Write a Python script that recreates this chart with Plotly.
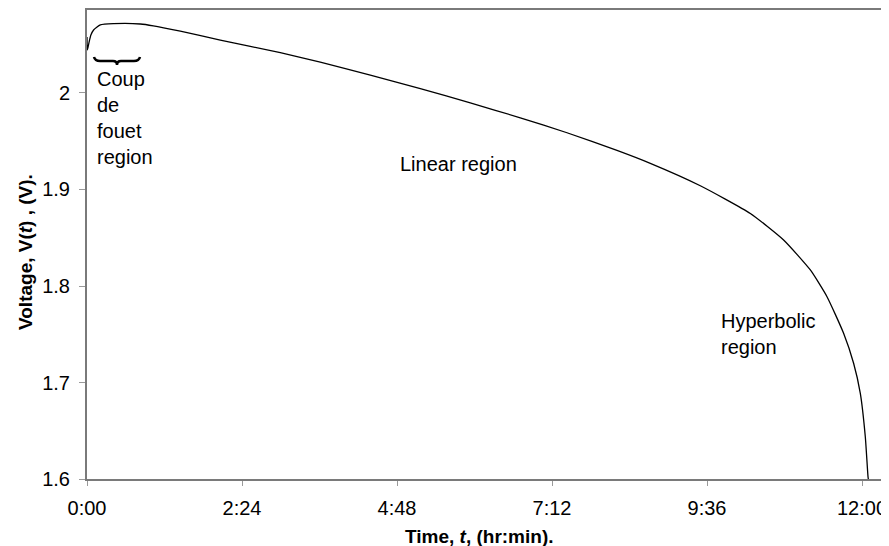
import plotly.graph_objects as go

# time in hours, voltage in volts
time_h = [0.0, 0.006, 0.03, 0.06, 0.102, 0.206, 0.407, 0.825, 1.027, 1.445, 2.064, 2.993,
          3.612, 4.387, 5.161, 5.935, 6.709, 7.432, 8.206, 8.722, 9.496, 10.271,
          10.786, 11.200, 11.458, 11.715, 11.870, 11.974, 12.051, 12.093, 12.098]
voltage = [2.058, 2.0446, 2.052, 2.060, 2.0653, 2.0705, 2.0718, 2.0715, 2.0696, 2.0640, 2.0548, 2.0418,
           2.0320, 2.0185, 2.0046, 1.9898, 1.9743, 1.9588, 1.9405, 1.9271, 1.9039, 1.8752,
           1.8477, 1.8166, 1.7889, 1.7510, 1.7199, 1.6888, 1.6438, 1.6024, 1.6000]

tick_hours = [0, 2.4, 4.8, 7.2, 9.6, 12.0]
tick_text  = ["0:00", "2:24", "4:48", "7:12", "9:36", "12:00"]
volt_ticks = [1.6, 1.7, 1.8, 1.9, 2.0]
volt_text  = ["1.6", "1.7", "1.8", "1.9", "2"]

font = "Arial, Liberation Sans, sans-serif"

fig = go.Figure()
fig.add_trace(go.Scatter(x          = time_h,
                         y          = voltage,
                         mode       = "lines",
                         line       = dict(color = "black", width = 1.3, shape = "spline", smoothing = 0.5),
                         showlegend = False))

axis_style = dict(showline          = True,
                  linecolor         = "#7a7a7a",
                  linewidth         = 2,
                  ticks             = "outside",
                  tickcolor         = "#9a9a9a",
                  tickwidth         = 1,
                  showgrid          = False,
                  zeroline          = False,
                  automargin        = False,
                  ticklabelstandoff = 5,
                  tickfont          = dict(family = font, size = 20, color = "black"))

fig.update_xaxes(range = [0, 12.418], tickvals = tick_hours, ticktext = tick_text,
                 ticklen = 5, mirror = True, **axis_style)
fig.update_yaxes(range = [1.6, 2.086], tickvals = volt_ticks, ticktext = volt_text,
                 ticklen = 6, **axis_style)

notes = [dict(x = 0.1285, y = 1.9746, text = "Coup<br>de<br>fouet<br>region", xanchor = "left", align = "left"),
         dict(x = 5.749, y = 1.9264, text = "Linear region", xanchor = "center", align = "center"),
         dict(x = 9.791, y = 1.7503, text = "Hyperbolic<br>region", xanchor = "left", align = "left")]
for n in notes:
    fig.add_annotation(showarrow = False, yanchor = "middle",
                       font = dict(family = font, size = 20, color = "black"), **n)

fig.add_annotation(xref = "paper", yref = "paper", x = -0.0773, y = 0.484, textangle = -90,
                   xanchor = "center", yanchor = "middle",
                   text = "<b>Voltage, V(<i>t</i>) , (V).</b>", showarrow = False,
                   font = dict(family = font, size = 19, color = "black"))
fig.add_annotation(xref = "paper", yref = "paper", x = 0.4888, y = -0.123,
                   xanchor = "center", yanchor = "middle",
                   text = "<b>Time, <i>t</i>, (hr:min).</b>", showarrow = False,
                   font = dict(family = font, size = 19, color = "black"))

# curly brace under the coup de fouet peak
fig.add_shape(type = "path", xref = "x", yref = "y", xsizemode = "pixel", ysizemode = "pixel",
              xanchor = 0.4645, yanchor = 2.0332,
              path = "M -23,4 Q -22,0 -17,0 L -4,0 Q 0,0 0,-4 Q 0,0 4,0 L 17,0 Q 22,0 23,4",
              line = dict(color = "black", width = 2.5))

# page body adds an 8px margin, so the figure is sized to fit inside the window
fig.update_layout(width = 881, height = 538,
                  margin = dict(l = 79, r = 0, t = 2, b = 67),
                  plot_bgcolor = "white", paper_bgcolor = "white")

fig.write_html("out.html")
